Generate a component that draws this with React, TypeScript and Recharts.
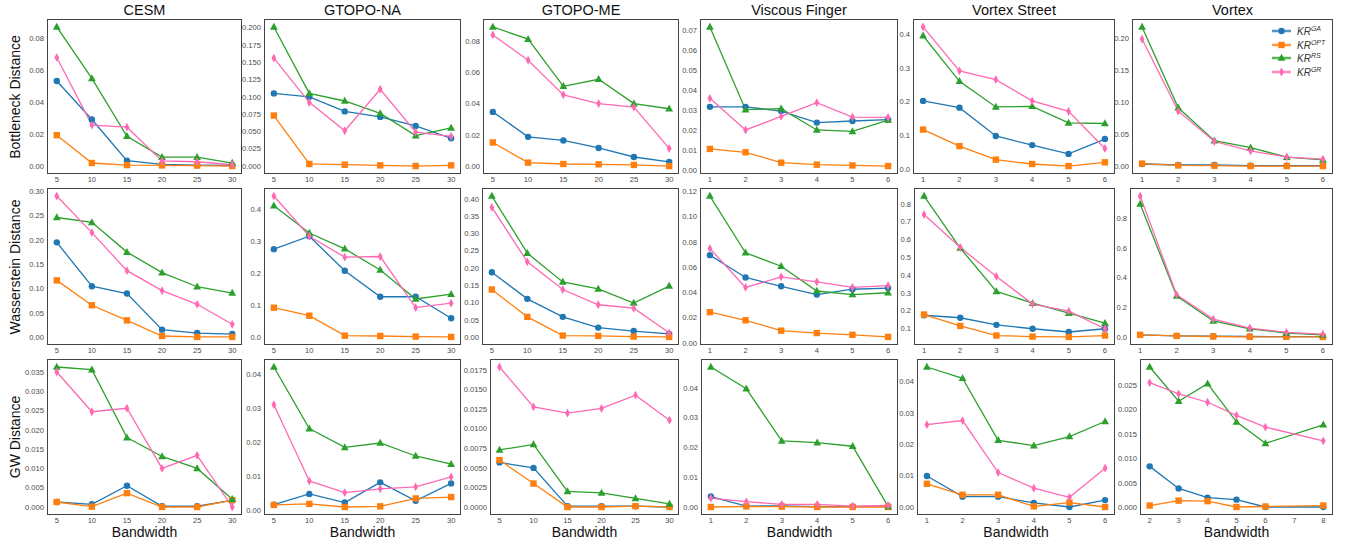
import React from 'react';
import { LineChart, Line, XAxis, YAxis } from 'recharts';

const FONT = '"Liberation Sans", Arial, Helvetica, sans-serif';
const FRAME = '#444';
const TICK = { fontSize: 7.6, fill: '#4a4a4a', fontFamily: FONT };
const COLORS = ['#1f77b4', '#ff7f0e', '#2ca02c', '#ff69b4'];
const HALOS = ['#a6c4dd', '#ffc596', '#a3d6a3', '#ffc0e0'];
const KEYS = ['ga', 'opt', 'rs', 'gr'];
const LEGEND_SUP = ['GA', 'OPT', 'RS', 'GR'];

const titles = ['CESM', 'GTOPO-NA', 'GTOPO-ME', 'Viscous Finger', 'Vortex Street', 'Vortex'];
const rowLabels = ['Bottleneck Distance', 'Wasserstein Distance', 'GW Distance'];

// x values
const bandwidths = [5, 10, 15, 20, 25, 30];
const levels = [1, 2, 3, 4, 5, 6];
const vortexGwLevels = [2, 3, 4, 5, 6, 8];
const vortexGwTicksX = [2, 3, 4, 5, 6, 7, 8];

// series order in every panel: GA, OPT, RS, GR
const cesmBottleneck = [
  [0.0535, 0.0293, 0.0035, 0.0011, 0.0007, 0.0005],
  [0.0195, 0.002, 0.0007, 0.0005, 0.0004, 0.0001],
  [0.0874, 0.0551, 0.0188, 0.0057, 0.0057, 0.002],
  [0.0682, 0.0258, 0.0245, 0.0033, 0.0028, 0.0009],
];
const cesmWasserstein = [
  [0.195, 0.105, 0.09, 0.016, 0.009, 0.007],
  [0.117, 0.066, 0.035, 0.003, 0.001, 0.001],
  [0.246, 0.236, 0.175, 0.133, 0.104, 0.091],
  [0.29, 0.215, 0.137, 0.096, 0.068, 0.027],
];
const cesmGw = [
  [0.0013, 0.0007, 0.0055, 0.0002, 0.0002, 0.0017],
  [0.0013, 0.0001, 0.0036, 0.0, 0.0, 0.0018],
  [0.0363, 0.0356, 0.018, 0.0131, 0.01, 0.002],
  [0.035, 0.0247, 0.0256, 0.01, 0.0134, 0.0],
];
const naBottleneck = [
  [0.105, 0.1, 0.079, 0.071, 0.058, 0.04],
  [0.073, 0.003, 0.002, 0.001, 0.0, 0.001],
  [0.201, 0.105, 0.094, 0.076, 0.044, 0.055],
  [0.156, 0.092, 0.051, 0.111, 0.049, 0.043],
];
const naWasserstein = [
  [0.275, 0.315, 0.208, 0.127, 0.127, 0.06],
  [0.093, 0.068, 0.006, 0.005, 0.003, 0.002],
  [0.41, 0.325, 0.276, 0.21, 0.12, 0.135],
  [0.44, 0.315, 0.25, 0.252, 0.093, 0.107],
];
const naGw = [
  [0.0018, 0.0049, 0.0024, 0.0083, 0.0029, 0.008],
  [0.0017, 0.002, 0.0011, 0.0013, 0.0036, 0.004],
  [0.042, 0.024, 0.0185, 0.0198, 0.016, 0.0136],
  [0.031, 0.0087, 0.0053, 0.0064, 0.007, 0.0099],
];
const meBottleneck = [
  [0.0347, 0.0187, 0.0164, 0.0116, 0.0058, 0.0027],
  [0.0151, 0.0022, 0.0013, 0.0011, 0.0007, 0.0],
  [0.0891, 0.0813, 0.0511, 0.0556, 0.04, 0.0367],
  [0.084, 0.0678, 0.0456, 0.04, 0.0378, 0.0113],
];
const meWasserstein = [
  [0.188, 0.111, 0.059, 0.028, 0.018, 0.01],
  [0.138, 0.059, 0.005, 0.004, 0.002, 0.001],
  [0.408, 0.243, 0.16, 0.14, 0.099, 0.148],
  [0.375, 0.218, 0.138, 0.094, 0.084, 0.013],
];
const meGw = [
  [0.0057, 0.005, 0.0001, 0.0001, 0.0001, 0.0],
  [0.006, 0.003, 0.0, 0.0, 0.0001, 0.0],
  [0.0073, 0.008, 0.002, 0.0018, 0.0011, 0.0004],
  [0.0179, 0.0128, 0.012, 0.0126, 0.0143, 0.0111],
];
const vfBottleneck = [
  [0.0316, 0.0316, 0.0295, 0.0237, 0.0245, 0.0252],
  [0.0105, 0.0088, 0.0036, 0.0026, 0.0022, 0.0019],
  [0.0717, 0.0302, 0.0307, 0.02, 0.0193, 0.025],
  [0.0359, 0.02, 0.0268, 0.0337, 0.0264, 0.0263],
];
const vfWasserstein = [
  [0.0696, 0.0519, 0.0449, 0.0384, 0.0426, 0.0435],
  [0.0244, 0.018, 0.0098, 0.0079, 0.0065, 0.0048],
  [0.1164, 0.0715, 0.0608, 0.0412, 0.0384, 0.0398],
  [0.0749, 0.044, 0.0524, 0.0485, 0.044, 0.0454],
];
const vfGw = [
  [0.0035, 0.0003, 0.0004, 0.0001, 0.0001, 0.0003],
  [0.0, 0.0002, 0.0001, 0.0, 0.0, 0.0],
  [0.047, 0.0397, 0.0222, 0.0216, 0.0204, 0.0001],
  [0.003, 0.0018, 0.0009, 0.0009, 0.0003, 0.0005],
];
const vsBottleneck = [
  [0.202, 0.182, 0.098, 0.071, 0.045, 0.089],
  [0.117, 0.068, 0.028, 0.015, 0.009, 0.02],
  [0.395, 0.26, 0.184, 0.186, 0.137, 0.135],
  [0.421, 0.291, 0.265, 0.202, 0.171, 0.061],
];
const vsWasserstein = [
  [0.174, 0.16, 0.12, 0.098, 0.08, 0.098],
  [0.178, 0.114, 0.06, 0.054, 0.052, 0.06],
  [0.844, 0.552, 0.308, 0.242, 0.186, 0.13],
  [0.74, 0.555, 0.392, 0.237, 0.197, 0.098],
];
const vsGw = [
  [0.0099, 0.0033, 0.0033, 0.0013, 0.0, 0.0022],
  [0.0074, 0.0039, 0.0039, 0.0002, 0.0014, 0.0],
  [0.0447, 0.0411, 0.0213, 0.0196, 0.0225, 0.0273],
  [0.0263, 0.0276, 0.011, 0.006, 0.0031, 0.0124],
];
const vortexBottleneck = [
  [0.0032, 0.0016, 0.0016, 0.0005, 0.0005, 0.0005],
  [0.0038, 0.001, 0.0005, 0.0, 0.0, 0.0],
  [0.2172, 0.091, 0.0396, 0.0286, 0.014, 0.0097],
  [0.1984, 0.0857, 0.0383, 0.0237, 0.014, 0.0108],
];
const vortexWasserstein = [
  [0.014, 0.007, 0.005, 0.003, 0.002, 0.002],
  [0.014, 0.007, 0.003, 0.001, 0.001, 0.0],
  [0.896, 0.276, 0.108, 0.055, 0.026, 0.014],
  [0.949, 0.284, 0.12, 0.06, 0.031, 0.019],
];
const vortexGw = [
  [0.0084, 0.0039, 0.002, 0.0016, 0.0001, 0.0001],
  [0.0004, 0.0014, 0.0013, 0.0001, 0.0002, 0.0004],
  [0.0287, 0.0217, 0.0253, 0.0175, 0.0131, 0.0169],
  [0.0255, 0.0232, 0.0215, 0.0188, 0.0164, 0.0136],
];

// y tick labels
const cesmBnTicks = ['0.00', '0.02', '0.04', '0.06', '0.08'];
const cesmWsTicks = ['0.00', '0.05', '0.10', '0.15', '0.20', '0.25', '0.30'];
const cesmGwTicks = ['0.000', '0.005', '0.010', '0.015', '0.020', '0.025', '0.030', '0.035'];
const naBnTicks = ['0.000', '0.025', '0.050', '0.075', '0.100', '0.125', '0.150', '0.175', '0.200'];
const naWsTicks = ['0.0', '0.1', '0.2', '0.3', '0.4'];
const naGwTicks = ['0.00', '0.01', '0.02', '0.03', '0.04'];
const meBnTicks = ['0.00', '0.02', '0.04', '0.06', '0.08'];
const meWsTicks = ['0.00', '0.05', '0.10', '0.15', '0.20', '0.25', '0.30', '0.35', '0.40'];
const meGwTicks = ['0.0000', '0.0025', '0.0050', '0.0075', '0.0100', '0.0125', '0.0150', '0.0175'];
const vfBnTicks = ['0.00', '0.01', '0.02', '0.03', '0.04', '0.05', '0.06', '0.07'];
const vfWsTicks = ['0.00', '0.02', '0.04', '0.06', '0.08', '0.10', '0.12'];
const vfGwTicks = ['0.00', '0.01', '0.02', '0.03', '0.04'];
const vsBnTicks = ['0.0', '0.1', '0.2', '0.3', '0.4'];
const vsWsTicks = ['0.1', '0.2', '0.3', '0.4', '0.5', '0.6', '0.7', '0.8'];
const vsGwTicks = ['0.00', '0.01', '0.02', '0.03', '0.04'];
const vortexBnTicks = ['0.00', '0.05', '0.10', '0.15', '0.20'];
const vortexWsTicks = ['0.0', '0.2', '0.4', '0.6', '0.8'];
const vortexGwTicks = ['0.000', '0.005', '0.010', '0.015', '0.020', '0.025'];

// plot box layout
const colRight = [241, 460, 678, 897, 1114, 1332];
const colLeft = [
  [48, 48, 48],
  [265, 265, 265],
  [484, 483, 491],
  [701, 701, 702],
  [914, 915, 918],
  [1133, 1131, 1141],
];
const rowTop = [20, 189, 360];
const rowBottom = [173, 344, 514];

type PanelDef = { xs: number[]; xTicks: number[]; series: number[][]; ticks: string[] };

const panels: PanelDef[][] = [
  [
    { xs: bandwidths, xTicks: bandwidths, series: cesmBottleneck, ticks: cesmBnTicks },
    { xs: bandwidths, xTicks: bandwidths, series: cesmWasserstein, ticks: cesmWsTicks },
    { xs: bandwidths, xTicks: bandwidths, series: cesmGw, ticks: cesmGwTicks },
  ],
  [
    { xs: bandwidths, xTicks: bandwidths, series: naBottleneck, ticks: naBnTicks },
    { xs: bandwidths, xTicks: bandwidths, series: naWasserstein, ticks: naWsTicks },
    { xs: bandwidths, xTicks: bandwidths, series: naGw, ticks: naGwTicks },
  ],
  [
    { xs: bandwidths, xTicks: bandwidths, series: meBottleneck, ticks: meBnTicks },
    { xs: bandwidths, xTicks: bandwidths, series: meWasserstein, ticks: meWsTicks },
    { xs: bandwidths, xTicks: bandwidths, series: meGw, ticks: meGwTicks },
  ],
  [
    { xs: levels, xTicks: levels, series: vfBottleneck, ticks: vfBnTicks },
    { xs: levels, xTicks: levels, series: vfWasserstein, ticks: vfWsTicks },
    { xs: levels, xTicks: levels, series: vfGw, ticks: vfGwTicks },
  ],
  [
    { xs: levels, xTicks: levels, series: vsBottleneck, ticks: vsBnTicks },
    { xs: levels, xTicks: levels, series: vsWasserstein, ticks: vsWsTicks },
    { xs: levels, xTicks: levels, series: vsGw, ticks: vsGwTicks },
  ],
  [
    { xs: levels, xTicks: levels, series: vortexBottleneck, ticks: vortexBnTicks },
    { xs: levels, xTicks: levels, series: vortexWasserstein, ticks: vortexWsTicks },
    { xs: vortexGwLevels, xTicks: vortexGwTicksX, series: vortexGw, ticks: vortexGwTicks },
  ],
];

function Marker({ cx, cy, kind, color }: { cx: number; cy: number; kind: number; color: string }) {
  if (kind === 0) return <circle cx={cx} cy={cy} r={3.2} fill={color} />;
  if (kind === 1) return <rect x={cx - 3.2} y={cy - 3.2} width={6.4} height={6.4} fill={color} />;
  if (kind === 2)
    return <polygon points={`${cx},${cy - 4.2} ${cx - 3.9},${cy + 2.8} ${cx + 3.9},${cy + 2.8}`} fill={color} />;
  return <polygon points={`${cx},${cy - 4.4} ${cx + 2.4},${cy} ${cx},${cy + 4.4} ${cx - 2.4},${cy}`} fill={color} />;
}

function Panel({ def, left, top, right, bottom, yw }: { def: PanelDef; left: number; top: number; right: number; bottom: number; yw: number }) {
  const data = def.xs.map((x, i) => {
    const row: Record<string, number> = { x };
    KEYS.forEach((k, s) => (row[k] = def.series[s][i]));
    return row;
  });
  const all = def.series.flat();
  const lo = Math.min(...all);
  const hi = Math.max(...all);
  const yp = (hi - lo) * 0.05;
  const xlo = Math.min(...def.xs);
  const xhi = Math.max(...def.xs);
  const xp = (xhi - xlo) * 0.05;
  const yTicks = def.ticks.map(Number);
  const boxW = right - left;
  const boxH = bottom - top;

  return (
    <>
      <div style={{ position: 'absolute', left: left - yw, top: top - 2 }}>
        <LineChart width={yw + boxW + 2} height={boxH + 2 + 18} data={data} margin={{ top: 2, right: 2, left: 0, bottom: 0 }}>
          <XAxis
            dataKey="x"
            type="number"
            domain={[xlo - xp, xhi + xp]}
            ticks={def.xTicks}
            interval={0}
            allowDataOverflow
            tickLine={false}
            tickSize={0}
            tickMargin={4}
            axisLine={false}
            tick={TICK}
            height={18}
          />
          <YAxis
            type="number"
            domain={[lo - yp, hi + yp]}
            ticks={yTicks}
            interval={0}
            allowDataOverflow
            tickFormatter={(v: number) => def.ticks[yTicks.indexOf(v)] ?? String(v)}
            tickLine={false}
            tickSize={0}
            tickMargin={4}
            axisLine={false}
            tick={TICK}
            width={yw}
          />
          {KEYS.map((k, s) => (
            <Line
              key={k}
              dataKey={k}
              stroke={COLORS[s]}
              strokeWidth={1.3}
              isAnimationActive={false}
              dot={(p: any) => <Marker key={`${k}-${p.index}`} cx={p.cx} cy={p.cy} kind={s} color={COLORS[s]} />}
              activeDot={false}
            />
          ))}
        </LineChart>
      </div>
      <div
        style={{
          position: 'absolute',
          left: left - 1,
          top: top - 1,
          width: boxW,
          height: boxH,
          border: `1.5px solid ${FRAME}`,
          pointerEvents: 'none',
        }}
      />
    </>
  );
}

function LegendBox() {
  return (
    <div style={{ position: 'absolute', left: 1271, top: 24.5, fontFamily: FONT, fontSize: 10, color: '#333' }}>
      {LEGEND_SUP.map((sup, s) => (
        <div key={sup} style={{ display: 'flex', alignItems: 'center', height: 13.5 }}>
          <svg width={21} height={10}>
            <line x1={1} y1={5} x2={20} y2={5} stroke={HALOS[s]} strokeWidth={3} />
            <line x1={1} y1={5} x2={20} y2={5} stroke={COLORS[s]} strokeWidth={1.2} />
            <Marker cx={10.5} cy={5} kind={s} color={COLORS[s]} />
          </svg>
          <span style={{ marginLeft: 5, fontStyle: 'italic' }}>
            KR<sup style={{ fontSize: 7, verticalAlign: 4 }}>{sup}</sup>
          </span>
        </div>
      ))}
    </div>
  );
}

export default function App() {
  return (
    <div style={{ position: 'absolute', left: 0, top: 0, width: 1348, height: 546, background: '#fff', overflow: 'hidden', fontFamily: FONT }}>
      {titles.map((t, c) => (
        <div
          key={t}
          style={{ position: 'absolute', left: (colLeft[c][0] + colRight[c]) / 2, top: 10, transform: 'translate(-50%, -50%)', fontSize: 14.5, color: '#111', whiteSpace: 'nowrap' }}
        >
          {t}
        </div>
      ))}
      {rowLabels.map((t, r) => (
        <div
          key={t}
          style={{ position: 'absolute', left: 15, top: (rowTop[r] + rowBottom[r]) / 2, transform: 'translate(-50%, -50%) rotate(-90deg)', fontSize: 14, color: '#111', whiteSpace: 'nowrap' }}
        >
          {t}
        </div>
      ))}
      {titles.map((t, c) => (
        <div
          key={`bw-${t}`}
          style={{ position: 'absolute', left: (colLeft[c][2] + colRight[c]) / 2, top: 532, transform: 'translate(-50%, -50%)', fontSize: 14, color: '#111' }}
        >
          Bandwidth
        </div>
      ))}
      {panels.map((col, c) =>
        col.map((def, r) => (
          <Panel
            key={`${c}-${r}`}
            def={def}
            left={colLeft[c][r]}
            right={colRight[c]}
            top={rowTop[r]}
            bottom={rowBottom[r]}
            yw={40}
          />
        ))
      )}
      <LegendBox />
    </div>
  );
}
